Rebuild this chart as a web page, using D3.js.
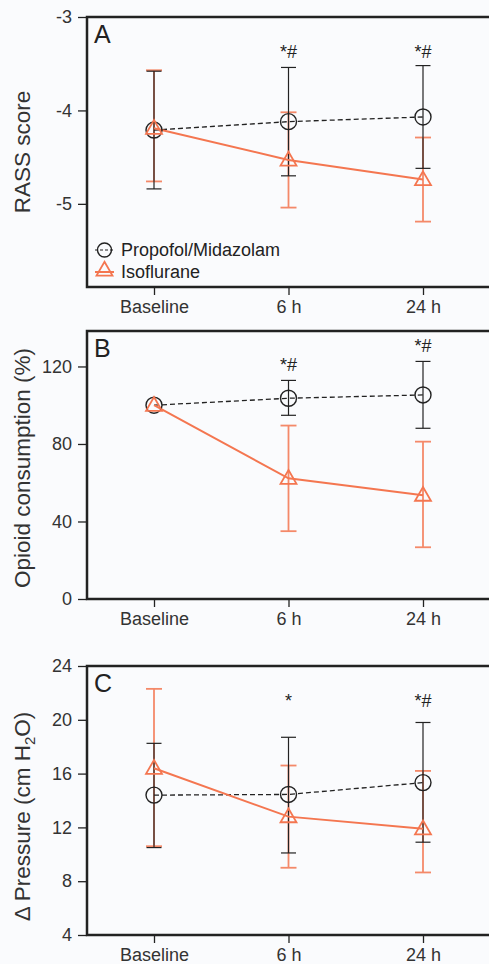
<!DOCTYPE html>
<html>
<head>
<meta charset="utf-8">
<script src="https://cdn.jsdelivr.net/npm/d3@7"></script>
<style>
  body { margin: 0; background: #fafbfd; }
  svg { display: block; font-family: "Liberation Sans", Arial, sans-serif; }
</style>
</head>
<body>
<svg id="chart"></svg>
<script>
// timepoints on the x axis
var times = ["Baseline", "6 h", "24 h"];

// panel A - RASS score
var rassProp = [-4.21, -4.12, -4.07],
    rassPropLo = [-4.84, -4.70, -4.62],
    rassPropHi = [-3.58, -3.54, -3.52],
    rassIso = [-4.19, -4.53, -4.74],
    rassIsoLo = [-4.76, -5.04, -5.19],
    rassIsoHi = [-3.57, -4.02, -4.29],
    rassMarks = ["", "*#", "*#"],
    rassTicks = [-5, -4, -3];

// panel B - opioid consumption
var opiProp = [100, 103.6, 105.3],
    opiPropLo = [100, 94.8, 88.1],
    opiPropHi = [100, 112.8, 122.6],
    opiIso = [100, 62.3, 53.6],
    opiIsoLo = [100, 35.0, 26.7],
    opiIsoHi = [100, 89.5, 81.2],
    opiMarks = ["", "*#", "*#"],
    opiTicks = [0, 40, 80, 120];

// panel C - delta pressure
var presProp = [14.4, 14.45, 15.33],
    presPropLo = [10.5, 10.1, 10.9],
    presPropHi = [18.25, 18.7, 19.8],
    presIso = [16.4, 12.8, 11.9],
    presIsoLo = [10.6, 9.0, 8.65],
    presIsoHi = [22.3, 16.6, 16.2],
    presMarks = ["", "*", "*#"],
    presTicks = [4, 8, 12, 16, 20, 24];

var orange = "#f47650",
    dark = "#222";

var svg = d3.select("#chart").attr("width", 489).attr("height", 964);

var x = d3.scalePoint().domain(times).range([154, 423]);

var tri = d3.symbol().type(d3.symbolTriangle).size(110);

// plain hyphen for negatives, like the original figure
function fmt(d) { return String(d); }

function panel(o) {
    var y = d3.scaleLinear().domain(o.domain).range([o.bottom, o.top]);
    var g = svg.append("g");

    // frame: left, top and bottom lines, open to the right edge
    g.append("path")
        .attr("d", "M489," + o.top + "H87V" + o.bottom + "H489")
        .attr("fill", "none").attr("stroke", dark).attr("stroke-width", 2.5);

    var ya = g.append("g").attr("transform", "translate(87,0)")
        .call(d3.axisLeft(y).tickValues(o.ticks).tickSize(9).tickPadding(6).tickFormat(fmt));
    ya.select(".domain").remove();
    ya.selectAll("line").attr("stroke", dark).attr("stroke-width", 1.3);
    ya.selectAll("text").attr("font-size", 18).attr("fill", "#333").attr("font-family", "Liberation Sans, Arial");

    var xa = g.append("g").attr("transform", "translate(0," + o.bottom + ")")
        .call(d3.axisBottom(x).tickSize(8).tickPadding(5));
    xa.select(".domain").remove();
    xa.selectAll("line").attr("stroke", dark).attr("stroke-width", 1.3);
    xa.selectAll("text").attr("font-size", 18).attr("fill", "#333").attr("font-family", "Liberation Sans, Arial");

    // panel letter
    g.append("text").attr("x", 94).attr("y", o.top + 26)
        .attr("font-size", 25).attr("fill", dark).text(o.letter);

    // y label
    var lab = g.append("text")
        .attr("transform", "translate(30," + ((o.top + o.bottom) / 2 + o.labShift) + ") rotate(-90)")
        .attr("text-anchor", "middle").attr("font-size", 22.5).attr("fill", "#333");
    o.label(lab);

    var idx = d3.range(times.length);

    // isoflurane error bars
    var ib = g.append("g").attr("stroke", orange).attr("stroke-width", 1.8).attr("opacity", 0.85);
    idx.forEach(function(i) {
        if (o.isoLo[i] === o.isoHi[i]) return;
        var cx = x(times[i]);
        ib.append("line").attr("x1", cx).attr("x2", cx).attr("y1", y(o.isoLo[i])).attr("y2", y(o.isoHi[i]));
        [o.isoLo[i], o.isoHi[i]].forEach(function(v) {
            ib.append("line").attr("x1", cx - 8).attr("x2", cx + 8).attr("y1", y(v)).attr("y2", y(v));
        });
    });

    // propofol error bars
    var pb = g.append("g").attr("stroke", dark).attr("stroke-width", 1.2);
    idx.forEach(function(i) {
        if (o.propLo[i] === o.propHi[i]) return;
        var cx = x(times[i]);
        pb.append("line").attr("x1", cx).attr("x2", cx).attr("y1", y(o.propLo[i])).attr("y2", y(o.propHi[i]));
        [o.propLo[i], o.propHi[i]].forEach(function(v) {
            pb.append("line").attr("x1", cx - 7.5).attr("x2", cx + 7.5).attr("y1", y(v)).attr("y2", y(v));
        });
    });

    var line = d3.line().x(function(d, i) { return x(times[i]); }).y(function(d) { return y(d); });

    g.append("path").datum(o.prop).attr("d", line)
        .attr("fill", "none").attr("stroke", dark).attr("stroke-width", 1.3).attr("stroke-dasharray", "5,3");
    g.append("path").datum(o.iso).attr("d", line)
        .attr("fill", "none").attr("stroke", orange).attr("stroke-width", 2);

    g.selectAll(".circ").data(o.prop).enter().append("circle")
        .attr("cx", function(d, i) { return x(times[i]); })
        .attr("cy", function(d) { return y(d); })
        .attr("r", 8).attr("fill", "none").attr("stroke", dark).attr("stroke-width", 1.4);

    g.selectAll(".tri").data(o.iso).enter().append("path")
        .attr("d", tri)
        .attr("transform", function(d, i) { return "translate(" + x(times[i]) + "," + (y(d) + 1) + ")"; })
        .attr("fill", "none").attr("stroke", orange).attr("stroke-width", 1.8);

    // significance marks
    g.selectAll(".mark").data(o.marks).enter().append("text")
        .attr("x", function(d, i) { return x(times[i]); })
        .attr("y", function(d, i) { return o.markY[i]; })
        .attr("text-anchor", "middle").attr("font-size", 18).attr("fill", dark)
        .text(function(d) { return d; });

    return y;
}

panel({
    letter: "A", top: 17, bottom: 287, domain: [-5.89, -3], ticks: rassTicks,
    prop: rassProp, propLo: rassPropLo, propHi: rassPropHi,
    iso: rassIso, isoLo: rassIsoLo, isoHi: rassIsoHi,
    marks: rassMarks, markY: [0, 58, 58], labShift: 0,
    label: function(t) { t.text("RASS score"); }
});

panel({
    letter: "B", top: 331, bottom: 599, domain: [0, 138.3], ticks: opiTicks,
    prop: opiProp, propLo: opiPropLo, propHi: opiPropHi,
    iso: opiIso, isoLo: opiIsoLo, isoHi: opiIsoHi,
    marks: opiMarks, markY: [0, 371, 352], labShift: 3,
    label: function(t) { t.text("Opioid consumption (%)"); }
});

panel({
    letter: "C", top: 666, bottom: 935, domain: [4, 24], ticks: presTicks,
    prop: presProp, propLo: presPropLo, propHi: presPropHi,
    iso: presIso, isoLo: presIsoLo, isoHi: presIsoHi,
    marks: presMarks, markY: [0, 707, 707], labShift: 16,
    label: function(t) {
        t.append("tspan").text("\u0394 Pressure (cm H");
        t.append("tspan").attr("font-size", 15).attr("dy", 5).text("2");
        t.append("tspan").attr("dy", -5).text("O)");
    }
});

// legend in panel A
var leg = svg.append("g");
leg.append("line").attr("x1", 95).attr("x2", 114).attr("y1", 250).attr("y2", 250)
    .attr("stroke", dark).attr("stroke-width", 1.2).attr("stroke-dasharray", "3,2");
leg.append("circle").attr("cx", 104.5).attr("cy", 250).attr("r", 7)
    .attr("fill", "none").attr("stroke", dark).attr("stroke-width", 1.4);
leg.append("line").attr("x1", 95).attr("x2", 114).attr("y1", 272).attr("y2", 272)
    .attr("stroke", orange).attr("stroke-width", 2);
leg.append("path").attr("d", tri).attr("transform", "translate(104.5,271)")
    .attr("fill", "none").attr("stroke", orange).attr("stroke-width", 1.8);
leg.append("text").attr("x", 121).attr("y", 256).attr("font-size", 18).attr("fill", dark).text("Propofol/Midazolam");
leg.append("text").attr("x", 121).attr("y", 278).attr("font-size", 18).attr("fill", dark).text("Isoflurane");
</script>
</body>
</html>
